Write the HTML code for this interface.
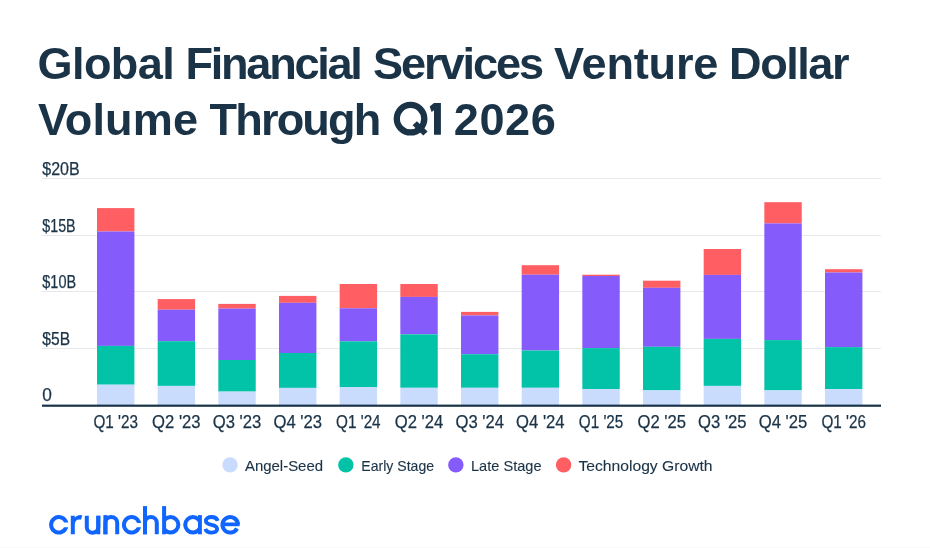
<!DOCTYPE html>
<html><head><meta charset="utf-8">
<style>
html,body{margin:0;padding:0;background:#fff;}
body{width:930px;height:548px;overflow:hidden;position:relative;}
svg{position:absolute;left:0;top:0;will-change:transform;}
text{font-family:"Liberation Sans",sans-serif;}
</style></head><body>
<svg width="930" height="548" viewBox="0 0 930 548">
<rect width="930" height="548" fill="#fff"/>
<!-- title -->
<g fill="#1a3347" font-weight="bold" font-size="45.1">
<text x="37.55" y="78.6" textLength="137.25" lengthAdjust="spacing">Global</text>
<text x="185.60" y="78.6" textLength="177.20" lengthAdjust="spacing">Financial</text>
<text x="373.10" y="78.6" textLength="171.10" lengthAdjust="spacing">Services</text>
<text x="554.10" y="78.6" textLength="164.25" lengthAdjust="spacing">Venture</text>
<text x="729.05" y="78.6" textLength="120.40" lengthAdjust="spacing">Dollar</text>
<text x="37.90" y="134.8" textLength="160.10" lengthAdjust="spacing">Volume</text>
<text x="209.55" y="134.8" textLength="171.70" lengthAdjust="spacing">Through</text>
<circle cx="410.55" cy="118.7" r="13.75" fill="none" stroke="#1a3347" stroke-width="6.3"/>
<path d="M412.6 125.3 L416.9 121.2 L427.6 131.6 L423.3 135.6 Z"/>
<path d="M434 102.9 H440.9 V134.7 H434 V110.3 L431.6 111.9 L429.7 106.4 Z"/>
<text x="453.75" y="134.8" textLength="102.00" lengthAdjust="spacing">2026</text>
</g>
<!-- gridlines -->
<g fill="#e6e8eb">
<rect x="42" y="178" width="839" height="1"/>
<rect x="42" y="235" width="839" height="1"/>
<rect x="42" y="291" width="839" height="1"/>
<rect x="42" y="348" width="839" height="1"/>
</g>
<!-- y labels -->
<g fill="#1a3347" font-size="17.5" stroke="#1a3347" stroke-width="0.25">
<text x="42.3" y="174.8" textLength="37.4" lengthAdjust="spacingAndGlyphs">$20B</text>
<text x="42.3" y="231.8" textLength="33.3" lengthAdjust="spacingAndGlyphs">$15B</text>
<text x="42.3" y="288" textLength="33.8" lengthAdjust="spacingAndGlyphs">$10B</text>
<text x="42.3" y="345" textLength="27.8" lengthAdjust="spacingAndGlyphs">$5B</text>
<text x="42.3" y="401.2" textLength="9.6" lengthAdjust="spacingAndGlyphs">0</text>
</g>
<g id="bars">
<rect x="97.00" y="208.10" width="37.4" height="23.40" fill="#ff5e63"/>
<rect x="97.00" y="231.50" width="37.4" height="114.40" fill="#855bfb"/>
<rect x="97.00" y="345.90" width="37.4" height="38.80" fill="#02c2a8"/>
<rect x="97.00" y="384.70" width="37.4" height="20.30" fill="#cadcfd"/>
<rect x="157.67" y="299.10" width="37.4" height="10.60" fill="#ff5e63"/>
<rect x="157.67" y="309.70" width="37.4" height="31.50" fill="#855bfb"/>
<rect x="157.67" y="341.20" width="37.4" height="44.70" fill="#02c2a8"/>
<rect x="157.67" y="385.90" width="37.4" height="19.10" fill="#cadcfd"/>
<rect x="218.33" y="303.90" width="37.4" height="4.70" fill="#ff5e63"/>
<rect x="218.33" y="308.60" width="37.4" height="51.40" fill="#855bfb"/>
<rect x="218.33" y="360.00" width="37.4" height="31.60" fill="#02c2a8"/>
<rect x="218.33" y="391.60" width="37.4" height="13.40" fill="#cadcfd"/>
<rect x="279.00" y="295.90" width="37.4" height="6.90" fill="#ff5e63"/>
<rect x="279.00" y="302.80" width="37.4" height="50.20" fill="#855bfb"/>
<rect x="279.00" y="353.00" width="37.4" height="34.90" fill="#02c2a8"/>
<rect x="279.00" y="387.90" width="37.4" height="17.10" fill="#cadcfd"/>
<rect x="339.67" y="284.00" width="37.4" height="24.30" fill="#ff5e63"/>
<rect x="339.67" y="308.30" width="37.4" height="33.00" fill="#855bfb"/>
<rect x="339.67" y="341.30" width="37.4" height="45.70" fill="#02c2a8"/>
<rect x="339.67" y="387.00" width="37.4" height="18.00" fill="#cadcfd"/>
<rect x="400.34" y="284.00" width="37.4" height="12.90" fill="#ff5e63"/>
<rect x="400.34" y="296.90" width="37.4" height="37.40" fill="#855bfb"/>
<rect x="400.34" y="334.30" width="37.4" height="53.50" fill="#02c2a8"/>
<rect x="400.34" y="387.80" width="37.4" height="17.20" fill="#cadcfd"/>
<rect x="461.00" y="311.90" width="37.4" height="3.60" fill="#ff5e63"/>
<rect x="461.00" y="315.50" width="37.4" height="38.70" fill="#855bfb"/>
<rect x="461.00" y="354.20" width="37.4" height="33.60" fill="#02c2a8"/>
<rect x="461.00" y="387.80" width="37.4" height="17.20" fill="#cadcfd"/>
<rect x="521.67" y="265.20" width="37.4" height="9.50" fill="#ff5e63"/>
<rect x="521.67" y="274.70" width="37.4" height="75.80" fill="#855bfb"/>
<rect x="521.67" y="350.50" width="37.4" height="37.30" fill="#02c2a8"/>
<rect x="521.67" y="387.80" width="37.4" height="17.20" fill="#cadcfd"/>
<rect x="582.34" y="274.70" width="37.4" height="1.30" fill="#ff5e63"/>
<rect x="582.34" y="276.00" width="37.4" height="72.10" fill="#855bfb"/>
<rect x="582.34" y="348.10" width="37.4" height="41.00" fill="#02c2a8"/>
<rect x="582.34" y="389.10" width="37.4" height="15.90" fill="#cadcfd"/>
<rect x="643.00" y="280.70" width="37.4" height="7.10" fill="#ff5e63"/>
<rect x="643.00" y="287.80" width="37.4" height="59.00" fill="#855bfb"/>
<rect x="643.00" y="346.80" width="37.4" height="43.60" fill="#02c2a8"/>
<rect x="643.00" y="390.40" width="37.4" height="14.60" fill="#cadcfd"/>
<rect x="703.67" y="249.00" width="37.4" height="25.90" fill="#ff5e63"/>
<rect x="703.67" y="274.90" width="37.4" height="64.00" fill="#855bfb"/>
<rect x="703.67" y="338.90" width="37.4" height="47.00" fill="#02c2a8"/>
<rect x="703.67" y="385.90" width="37.4" height="19.10" fill="#cadcfd"/>
<rect x="764.34" y="202.20" width="37.4" height="21.20" fill="#ff5e63"/>
<rect x="764.34" y="223.40" width="37.4" height="116.70" fill="#855bfb"/>
<rect x="764.34" y="340.10" width="37.4" height="50.30" fill="#02c2a8"/>
<rect x="764.34" y="390.40" width="37.4" height="14.60" fill="#cadcfd"/>
<rect x="825.00" y="269.20" width="37.4" height="3.30" fill="#ff5e63"/>
<rect x="825.00" y="272.50" width="37.4" height="74.60" fill="#855bfb"/>
<rect x="825.00" y="347.10" width="37.4" height="42.00" fill="#02c2a8"/>
<rect x="825.00" y="389.10" width="37.4" height="15.90" fill="#cadcfd"/>
</g>
<rect x="42" y="404.6" width="839" height="2.2" fill="#1a3347"/>
<!-- x labels -->
<g fill="#1a3347" font-size="17.5" text-anchor="middle" id="xl" stroke="#1a3347" stroke-width="0.25">
<text x="115.70" y="427.7" textLength="44.5" lengthAdjust="spacingAndGlyphs">Q1 '23</text>
<text x="176.37" y="427.7" textLength="48.5" lengthAdjust="spacingAndGlyphs">Q2 '23</text>
<text x="237.03" y="427.7" textLength="48.5" lengthAdjust="spacingAndGlyphs">Q3 '23</text>
<text x="297.70" y="427.7" textLength="48.5" lengthAdjust="spacingAndGlyphs">Q4 '23</text>
<text x="358.37" y="427.7" textLength="44.5" lengthAdjust="spacingAndGlyphs">Q1 '24</text>
<text x="419.04" y="427.7" textLength="48.5" lengthAdjust="spacingAndGlyphs">Q2 '24</text>
<text x="479.70" y="427.7" textLength="48.5" lengthAdjust="spacingAndGlyphs">Q3 '24</text>
<text x="540.37" y="427.7" textLength="48.5" lengthAdjust="spacingAndGlyphs">Q4 '24</text>
<text x="601.04" y="427.7" textLength="44.5" lengthAdjust="spacingAndGlyphs">Q1 '25</text>
<text x="661.70" y="427.7" textLength="48.5" lengthAdjust="spacingAndGlyphs">Q2 '25</text>
<text x="722.37" y="427.7" textLength="48.5" lengthAdjust="spacingAndGlyphs">Q3 '25</text>
<text x="783.04" y="427.7" textLength="48.5" lengthAdjust="spacingAndGlyphs">Q4 '25</text>
<text x="843.70" y="427.7" textLength="44.5" lengthAdjust="spacingAndGlyphs">Q1 '26</text>
</g>
<!-- legend -->
<g font-size="15" fill="#1a3347" stroke="#1a3347" stroke-width="0.12">
<circle cx="230.05" cy="464.9" r="7.7" fill="#cadcfd" stroke="none"/>
<text x="245" y="470.6" textLength="78" lengthAdjust="spacingAndGlyphs">Angel-Seed</text>
<circle cx="345.85" cy="464.9" r="7.7" fill="#02c2a8" stroke="none"/>
<text x="361.3" y="470.6" textLength="72.8" lengthAdjust="spacingAndGlyphs">Early Stage</text>
<circle cx="455.85" cy="464.9" r="7.7" fill="#855bfb" stroke="none"/>
<text x="471" y="470.6" textLength="70.5" lengthAdjust="spacingAndGlyphs">Late Stage</text>
<circle cx="563.6" cy="464.9" r="7.7" fill="#ff5e63" stroke="none"/>
<text x="578.5" y="470.6" textLength="134" lengthAdjust="spacingAndGlyphs">Technology Growth</text>
</g>
<rect id="bottomrow" x="0" y="547" width="930" height="1" fill="#fbfbfb"/>
<!-- logo -->
<g fill="#1065ff" stroke="#1065ff" stroke-width="0">
<path d="M68.35 522.6 A9.75 9.75 0 1 0 68.27 527.3 L64.03 527.3 A5.75 5.75 0 1 1 64.16 522.6 Z"/>
<path d="M70.8 534.3 V515.8 H74.8 V517.6 C76.2 515.7 78.2 514.9 80.2 514.9 C81 514.9 81.7 515.1 82.4 515.5 L80.9 519.8 C80.4 519.6 79.9 519.5 79.3 519.5 C76.6 519.5 74.8 521.4 74.8 524.6 V534.3 Z"/>
<path fill="none" stroke-width="4" d="M86.8 515.8 V527.1 A5.75 5.75 0 0 0 98.3 527.1 V515.8"/>
<rect x="96.3" y="515.8" width="4" height="18.5"/>
<path fill="none" stroke-width="4" d="M105.4 534.3 V522.9 A5.9 5.9 0 0 1 117.2 522.9 V534.3"/>
<rect x="103.4" y="515.1" width="4" height="19.2"/>
<path d="M141.21 522.9 A9.75 9.75 0 1 0 141.07 527.3 L136.83 527.3 A5.75 5.75 0 1 1 137.08 522.9 Z"/>
<rect x="143" y="506.1" width="4" height="28.2"/>
<path fill="none" stroke-width="4" d="M145 534.3 V522.9 A5.9 5.9 0 0 1 156.8 522.9 V534.3"/>
<rect x="162.1" y="506.1" width="4" height="28.2"/>
<clipPath id="cb"><rect x="163" y="500" width="30" height="40"/></clipPath><circle clip-path="url(#cb)" fill="none" stroke-width="4" cx="170.6" cy="524.8" r="7.75"/>
<clipPath id="ca"><rect x="175" y="500" width="25" height="40"/></clipPath><circle clip-path="url(#ca)" fill="none" stroke-width="4" cx="192.9" cy="524.8" r="7.7"/>
<rect x="198.0" y="515.1" width="3.9" height="19.2"/>
<path fill="none" stroke-width="3.9" d="M217.7 520.9 C216.9 518.3 214.6 517 211.5 517 C208.3 517 205.9 518.6 205.9 521.1 C205.9 523.6 208.5 524.3 211.5 524.9 C214.8 525.5 217.1 526.4 217.1 529.1 C217.1 531.3 214.8 532.6 211.5 532.6 C208.2 532.6 206.1 531.3 205.3 528.9"/>
<rect x="221" y="522.5" width="18.6" height="3.7"/>
<path fill="none" stroke-width="4" d="M237.95 524.5 A7.75 7.75 0 1 0 237.04 528.44"/>
</g>
</svg>
</body></html>
